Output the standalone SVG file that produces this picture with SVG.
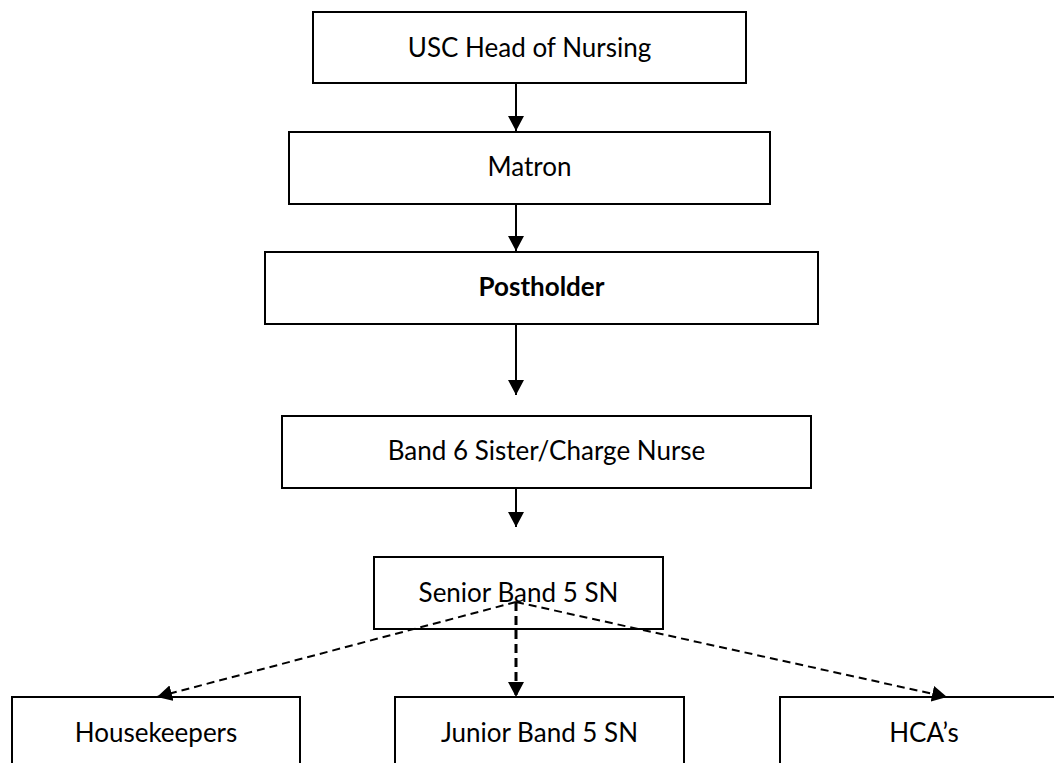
<svg xmlns="http://www.w3.org/2000/svg" width="1054" height="763" viewBox="0 0 1054 763">
<style>
.box{fill:#fff;stroke:#000;stroke-width:2}
.lbl{font-family:Lato,"Open Sans","Liberation Sans",sans-serif;font-size:26px;fill:#000;text-anchor:middle}
.b{font-weight:bold}
.solid{stroke:#000;stroke-width:2;fill:none}
.dash{stroke:#000;stroke-width:2;fill:none;stroke-dasharray:8 5}
.dashv{stroke:#000;stroke-width:3;fill:none;stroke-dasharray:9 5}
</style>
<defs>
<marker id="ah" markerUnits="userSpaceOnUse" markerWidth="16" markerHeight="16" refX="15" refY="8" orient="auto">
<path d="M0,0 L15,8 L0,16 Z" fill="#000"/>
</marker>
</defs>
<rect width="1054" height="763" fill="#fff"/>
<g id="connectors">
<line class="solid" x1="516" y1="83" x2="516" y2="131" marker-end="url(#ah)"/>
<line class="solid" x1="516" y1="204" x2="516" y2="251" marker-end="url(#ah)"/>
<line class="solid" x1="516" y1="324" x2="516" y2="395" marker-end="url(#ah)"/>
<line class="solid" x1="516" y1="488" x2="516" y2="527" marker-end="url(#ah)"/>
</g>
<g id="n1"><rect class="box" x="313" y="12" width="433" height="71"/><text class="lbl" x="529.5" y="57">USC Head of Nursing</text></g>
<g id="n2"><rect class="box" x="289" y="132" width="481" height="72"/><text class="lbl" x="529.5" y="176">Matron</text></g>
<g id="n3"><rect class="box" x="265" y="252" width="553" height="72"/><text class="lbl b" x="541.5" y="296">Postholder</text></g>
<g id="n4"><rect class="box" x="282" y="416" width="529" height="72"/><text class="lbl" x="546.5" y="460">Band 6 Sister/Charge Nurse</text></g>
<g id="n5"><rect class="box" x="374" y="557" width="289" height="72"/><text class="lbl" x="518.5" y="602">Senior Band 5 SN</text></g>
<g id="n6"><rect class="box" x="12" y="697" width="288" height="80"/><text class="lbl" x="156" y="742">Housekeepers</text></g>
<g id="n7"><rect class="box" x="395" y="697" width="289" height="80"/><text class="lbl" x="539.5" y="742">Junior Band 5 SN</text></g>
<g id="n8"><rect class="box" x="780" y="697" width="288" height="80"/><text class="lbl" x="924" y="742">HCA’s</text></g>
<g id="connectors-dashed">
<line class="dash" x1="516" y1="602" x2="157" y2="697" marker-end="url(#ah)"/>
<line class="dashv" x1="516" y1="602" x2="516" y2="697" marker-end="url(#ah)"/>
<line class="dash" x1="516" y1="602" x2="947" y2="697" marker-end="url(#ah)"/>
</g>
</svg>
